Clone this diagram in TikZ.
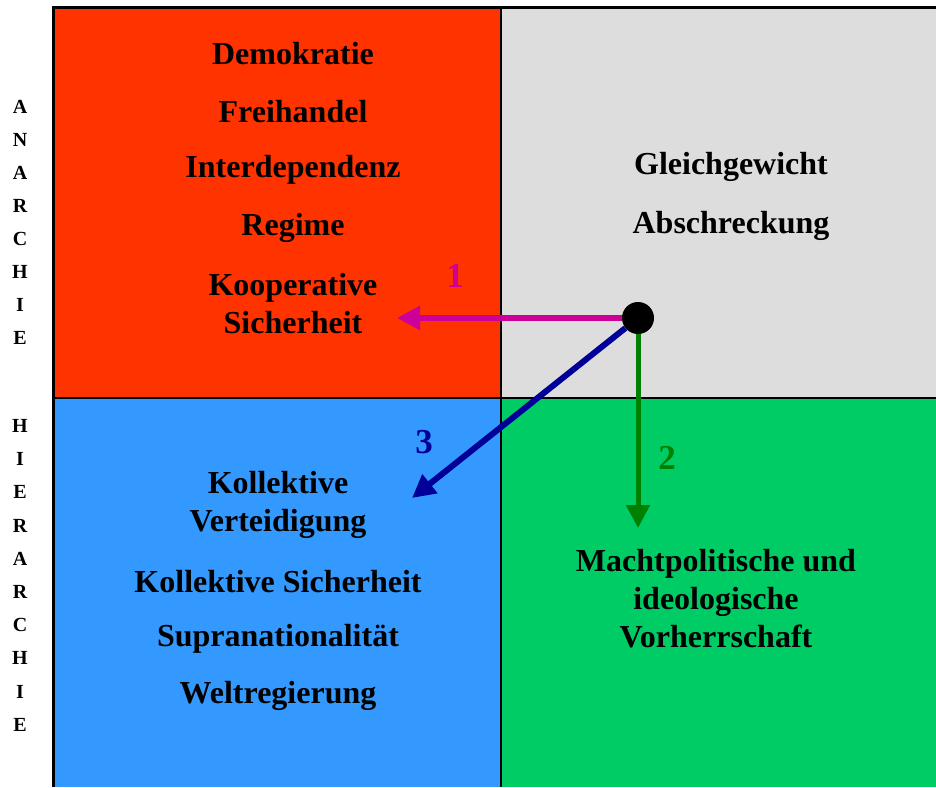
\documentclass[tikz,border=0pt]{standalone}
\usepackage{fontspec}
\setmainfont{Liberation Serif}
\usetikzlibrary{arrows.meta}
\definecolor{redfield}{HTML}{FF3300}
\definecolor{grayfield}{HTML}{DDDDDD}
\definecolor{bluefield}{HTML}{3399FF}
\definecolor{greenfield}{HTML}{00CC66}
\definecolor{pathone}{HTML}{CC0099}
\definecolor{pathtwo}{HTML}{008000}
\definecolor{paththree}{HTML}{000099}
\tikzset{
	fieldtext/.style={font=\fontsize{32}{38}\selectfont\bfseries,align=center,inner sep=0pt},
	axisletter/.style={font=\fontsize{20}{20}\selectfont\bfseries,inner sep=0pt},
	pathno/.style={font=\fontsize{35}{35}\selectfont\bfseries,inner sep=0pt},
	patharrow/.style={-{Triangle[length=23pt,width=23pt]}}
}
\begin{document}
\begin{tikzpicture}[
		x=1pt,y=-1pt,
		line cap=butt,
		line join=miter
		]
		\useasboundingbox (0,0) rectangle (936,787);
		% fields
		\fill[redfield] (53,7) rectangle (501,398);
		\fill[grayfield] (501,7) rectangle (936,398);
		\fill[bluefield] (53,398) rectangle (501,787);
		\fill[greenfield] (501,398) rectangle (936,787);
		\draw[line width=3pt] (53,787) -- (53,7) -- (936,7);
		\draw[line width=2.5pt] (501,7) -- (501,787);
		\draw[line width=2.5pt] (53,398) -- (936,398);
		% axis
		\foreach \ch [count=\i from 0] in {A,N,A,R,C,H,I,E}
			\node[axisletter] (an\i) at (20,{107+33*\i}) {\ch};
		\foreach \ch [count=\i from 0] in {H,I,E,R,A,R,C,H,I,E}
			\node[axisletter] (hi\i) at (20,{426+33.2*\i}) {\ch};
		% texts
		\node[fieldtext] (demo) at (293,54) {Demokratie};
		\node[fieldtext] (frei) at (293,112) {Freihandel};
		\node[fieldtext] (inter) at (293,170) {Interdependenz};
		\node[fieldtext] (regime) at (293,228) {Regime};
		\node[fieldtext] (koop) at (293,304) {Kooperative\\Sicherheit};
		\node[fieldtext] (gleich) at (731,167) {Gleichgewicht};
		\node[fieldtext] (absch) at (731,226) {Abschreckung};
		\node[fieldtext] (kverteid) at (278,505) {Kollektive\\Verteidigung};
		\node[fieldtext] (ksicher) at (278,582) {Kollektive Sicherheit};
		\node[fieldtext] (supra) at (278,639) {Supranationalität};
		\node[fieldtext] (welt) at (278,696) {Weltregierung};
		\node[fieldtext] (macht) at (716,599) {Machtpolitische und\\ideologische\\Vorherrschaft};
		% paths
		\node[circle,fill=black,minimum size=32pt,inner sep=0pt] (dot) at (638,318) {};
		\coordinate (endone) at (397,318);
		\coordinate (endtwo) at (638,528);
		\coordinate (endthree) at (412,498);
		\draw[patharrow,pathone,line width=6pt] (dot) -- (endone);
		\draw[patharrow,pathtwo,line width=5pt] (dot) -- (endtwo);
		\draw[patharrow,paththree,line width=6pt] (dot) -- (endthree);
		\node[pathno,text=pathone] (one) at (455,276) {1};
		\node[pathno,text=pathtwo] (two) at (667,458) {2};
		\node[pathno,text=paththree] (three) at (424,442) {3};
\end{tikzpicture}
\end{document}
